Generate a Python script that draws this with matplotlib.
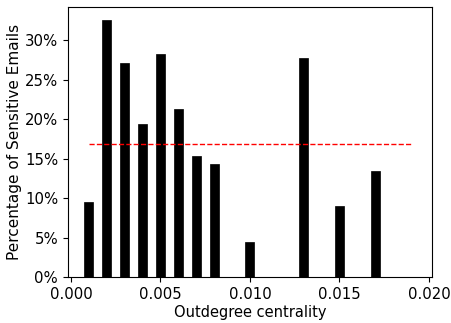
import numpy as np
import matplotlib
matplotlib.use('Agg')
import matplotlib.pyplot as plt
from matplotlib.ticker import PercentFormatter

# outdegree centrality bins and share of sensitive emails
centrality = [0.001, 0.002, 0.003, 0.004, 0.005, 0.006, 0.007, 0.008, 0.009, 0.010,
              0.011, 0.012, 0.013, 0.014, 0.015, 0.016, 0.017, 0.018, 0.019]
sensitive_pct = [0.095, 0.326, 0.272, 0.194, 0.283, 0.213, 0.154, 0.144, 0.0, 0.045,
                 0.0, 0.0, 0.278, 0.0, 0.090, 0.0, 0.135, 0.0, 0.0]
overall_avg = 0.169

fig = plt.figure(figsize=(4.52, 3.23), dpi=100)
ax = fig.add_subplot(111)
ax.bar(centrality, sensitive_pct, width=0.0005, color='black', edgecolor='black', linewidth=0.5)
ax.hlines(overall_avg, centrality[0], centrality[-1], colors='red', linestyles='--', linewidth=1)

ax.yaxis.set_major_formatter(PercentFormatter(1.0, decimals=0))
ax.set_xticks([0.0, 0.005, 0.010, 0.015, 0.020])
ax.set_xticklabels(['0.000', '0.005', '0.010', '0.015', '0.020'])
ax.tick_params(labelsize=10.7)
ax.set_xlabel('Outdegree centrality', fontsize=10.5, labelpad=2)
ax.set_ylabel('Percentage of Sensitive Emails', fontsize=11, labelpad=2)

fig.subplots_adjust(left=0.150, right=0.956, bottom=0.142, top=0.978)
fig.savefig('out.png', dpi=100)
